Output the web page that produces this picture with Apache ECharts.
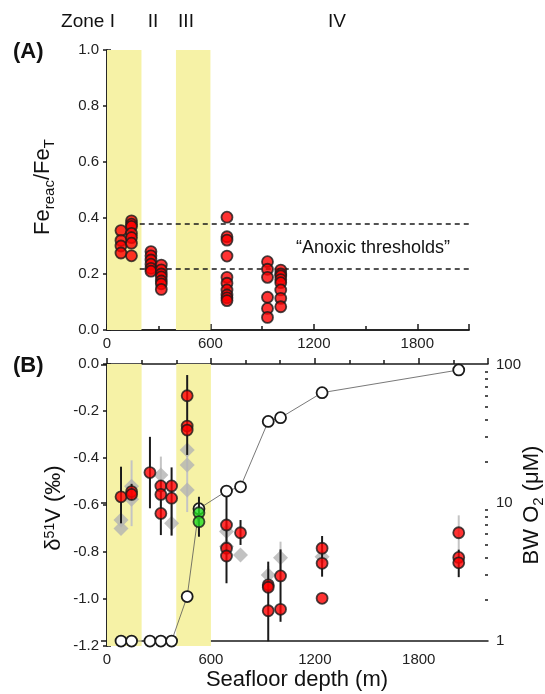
<!DOCTYPE html>
<html><head><meta charset="utf-8">
<script src="https://cdn.jsdelivr.net/npm/echarts@6/dist/echarts.min.js"></script>
<style>html,body{margin:0;padding:0;background:#fff}#c{width:545px;height:694px}</style>
</head><body><div id="c"></div>
<script>
// ---------- Panel A data ----------
const feSites = [81, 142, 255, 315, 696, 931, 1008];
const feValues = [
  [0.355, 0.32, 0.30, 0.275],
  [0.39, 0.378, 0.37, 0.345, 0.33, 0.31, 0.265],
  [0.28, 0.265, 0.25, 0.235, 0.22, 0.21],
  [0.232, 0.215, 0.2, 0.19, 0.175, 0.165, 0.145],
  [0.403, 0.333, 0.321, 0.264, 0.188, 0.167, 0.143, 0.125, 0.115, 0.105],
  [0.244, 0.217, 0.188, 0.117, 0.077, 0.045],
  [0.214, 0.2, 0.193, 0.18, 0.169, 0.143, 0.113, 0.083]
];
const anoxicThresholds = [0.38, 0.22];
const thresholdStart = 190;
const zoneBands = [[0, 200], [400, 600]];
const zoneLabels = ['Zone I', 'II', 'III', 'IV'];

// ---------- Panel B data ----------
const vSites = [81, 142, 248, 311, 373, 463, 690, 771, 931, 1002, 1242, 2031];
const vValues = [
  [-0.565], [-0.543, -0.555], [-0.462], [-0.519, -0.555, -0.636], [-0.519, -0.571],
  [-0.135, -0.264, -0.281], [-0.685, -0.784, -0.817], [-0.718], [-0.94, -0.95, -1.05],
  [-0.902, -1.044], [-0.784, -0.848, -0.997], [-0.718, -0.823, -0.846]
];
const vErrLow  = [-0.678, -0.58, -0.614, -0.728, -0.73, -0.387, -0.933, -0.77, -1.18, -1.097, -0.905, -0.907];
const vErrHigh = [-0.437, -0.51, -0.31, -0.494, -0.44, -0.047, -0.565, -0.664, -0.841, -0.789, -0.732, -0.79];

const greenSites = [531];
const greenValues = [[-0.633, -0.671]];
const greenErrLow = [-0.735];
const greenErrHigh = [-0.565];

const greySites = [81, 142, 311, 373, 463, 690, 771, 931, 1002, 1242];
const greyValues = [
  [-0.664, -0.70], [-0.52, -0.575], [-0.472], [-0.678], [-0.366, -0.43, -0.536],
  [-0.713, -0.777], [-0.813], [-0.898], [-0.824], [-0.82]
];
const greyBarSites = [142, 311, 373, 463, 690, 931, 1002, 2031];
const greyErrLow  = [-0.69, -0.621, -0.73, -0.63, -0.75, -0.93, -0.877, -0.805];
const greyErrHigh = [-0.41, -0.394, -0.60, -0.38, -0.68, -0.86, -0.756, -0.644];

const o2Depth  = [81, 142, 248, 311, 373, 463, 531, 690, 771, 931, 1002, 1242, 2031];
const o2Values = [1, 1, 1, 1, 1, 2.1, 9.1, 12.2, 13.1, 39, 41.5, 63, 92];
const o2MajorTicks = [1, 10, 100];
const o2MinorTicks = [2, 3, 4, 5, 6, 7, 8, 9, 20, 30, 40, 50, 60, 70, 80, 90];

// ---------- helpers ----------
const FONT = '"Liberation Sans", Arial, sans-serif';
const INK = '#1a1a1a';
const BAND = '#f6f2a6';
const lbl = {fontFamily: FONT, fontSize: 15, color: '#222'};
const lineSt = {color: INK, width: 1.5};

function pairs(sites, values) {
  const out = [];
  sites.forEach((s, i) => values[i].forEach(v => out.push([s, v])));
  return out;
}
function errBars(sites, lo, hi, color, xi, yi, z) {
  return {
    type: 'custom', xAxisIndex: xi, yAxisIndex: yi, z: z, silent: true,
    data: sites.map((s, i) => [s, lo[i], hi[i]]),
    encode: {x: 0, y: [1, 2]},
    renderItem: (params, api) => {
      const a = api.coord([api.value(0), api.value(1)]);
      const b = api.coord([api.value(0), api.value(2)]);
      return {type: 'line', shape: {x1: a[0], y1: a[1], x2: b[0], y2: b[1]},
              style: {stroke: color, lineWidth: 2}};
    }
  };
}
function bandSeries(xi, yi) {
  return {
    type: 'scatter', xAxisIndex: xi, yAxisIndex: yi, data: [], z: 0, silent: true,
    markArea: {silent: true, itemStyle: {color: BAND},
      data: zoneBands.map(b => [{xAxis: b[0]}, {xAxis: b[1]}])}
  };
}
function xAxes(grid, max, minorInt) {
  return [
    {type: 'value', gridIndex: grid, min: 0, max: max, interval: 600, position: 'bottom',
     axisLine: {show: true, lineStyle: lineSt},
     axisTick: {show: true, inside: true, length: 6, lineStyle: lineSt},
     axisLabel: Object.assign({margin: 6, formatter: v => (v % 600 === 0 ? String(v) : '')}, lbl),
     splitLine: {show: false}},
    {type: 'value', gridIndex: grid, min: 0, max: max, interval: minorInt, position: 'bottom',
     axisLine: {show: false}, axisTick: {show: true, inside: true, length: 4, lineStyle: lineSt},
     axisLabel: {show: false}, splitLine: {show: false}},
    {type: 'value', gridIndex: grid, min: 0, max: max, position: 'top',
     axisLine: {show: true, lineStyle: lineSt}, axisTick: {show: false},
     axisLabel: {show: false}, splitLine: {show: false}}
  ];
}
function yAxesLeft(grid, min, max) {
  return [
    {type: 'value', gridIndex: grid, min: min, max: max, interval: 0.2, position: 'left',
     axisLine: {show: true, lineStyle: lineSt},
     axisTick: {show: true, inside: false, length: 4, lineStyle: lineSt},
     axisLabel: Object.assign({margin: 8, formatter: v => v.toFixed(1)}, lbl),
     splitLine: {show: false}},
    {type: 'value', gridIndex: grid, min: min, max: max, interval: 0.1, position: 'left',
     axisLine: {show: false}, axisTick: {show: true, inside: true, length: 4, lineStyle: lineSt},
     axisLabel: {show: false}, splitLine: {show: false}}
  ];
}

const xs = xAxes(0, 2100, 300).concat(xAxes(1, 2200, 200));
const ys = yAxesLeft(0, 0, 1).concat([
  {type: 'value', gridIndex: 0, min: 0, max: 1, position: 'right',
   axisLine: {show: true, lineStyle: lineSt}, axisTick: {show: false},
   axisLabel: {show: false}, splitLine: {show: false}}
]).concat(yAxesLeft(1, -1.2, 0)).concat([
  {type: 'value', gridIndex: 1, min: -0.036, max: 2.007, position: 'right',
   axisLine: {show: true, lineStyle: lineSt},
   axisTick: {show: true, inside: true, length: 6, lineStyle: lineSt,
              customValues: o2MajorTicks.map(Math.log10)},
   axisLabel: Object.assign({margin: 8, customValues: o2MajorTicks.map(Math.log10),
              formatter: v => String(Math.round(Math.pow(10, v)))}, lbl),
   splitLine: {show: false}},
  {type: 'value', gridIndex: 1, min: -0.036, max: 2.007, position: 'right',
   axisLine: {show: false},
   axisTick: {show: true, inside: true, length: 3, lineStyle: lineSt,
              customValues: o2MinorTicks.map(Math.log10)},
   axisLabel: {show: false}, splitLine: {show: false}}
]);
// yAxis indices: 0,1 top-left; 2 top-right; 3,4 bottom-left; 5 O2 major; 6 O2 minor

const redPoint = {color: '#ff0000', borderColor: INK, borderWidth: 1.8};
const richMain = {fontFamily: FONT, fontSize: 22, lineHeight: 30, verticalAlign: 'top', fill: '#111'};
const richSub = {fontFamily: FONT, fontSize: 15, lineHeight: 30, verticalAlign: 'top', padding: [10, 0, 0, 0], fill: '#111'};
const richSup = {fontFamily: FONT, fontSize: 14, lineHeight: 30, verticalAlign: 'top', fill: '#111'};

const option = {
  animation: false,
  backgroundColor: '#fff',
  grid: [
    {left: 107, top: 50, width: 362, height: 280},
    {left: 107, top: 364, width: 381, height: 282}
  ],
  xAxis: xs,
  yAxis: ys,
  series: [
    bandSeries(0, 0),
    {type: 'scatter', xAxisIndex: 0, yAxisIndex: 0, data: [], z: 1, silent: true,
     markLine: {silent: true, symbol: ['none', 'none'], label: {show: false},
       lineStyle: {color: INK, width: 1.5, type: [5, 4]},
       data: anoxicThresholds.map(t => [{coord: [thresholdStart, t]}, {coord: [2100, t]}])}},
    {type: 'scatter', xAxisIndex: 0, yAxisIndex: 0, z: 5, symbolSize: 11,
     itemStyle: redPoint, data: pairs(feSites, feValues)},

    bandSeries(3, 3),
    errBars(greyBarSites, greyErrLow, greyErrHigh, '#c4c4c4', 3, 3, 2),
    {type: 'scatter', xAxisIndex: 3, yAxisIndex: 3, z: 2, symbol: 'diamond', symbolSize: 15,
     itemStyle: {color: '#b3b3b3'}, data: pairs(greySites, greyValues)},
    {type: 'line', xAxisIndex: 3, yAxisIndex: 5, z: 3, clip: false,
     symbol: 'circle', symbolSize: 11, showAllSymbol: true,
     lineStyle: {color: '#555', width: 0.8},
     itemStyle: {color: '#fff', borderColor: INK, borderWidth: 1.8},
     data: o2Depth.map((d, i) => [d, Math.log10(o2Values[i])])},
    errBars(vSites, vErrLow, vErrHigh, INK, 3, 3, 4),
    errBars(greenSites, greenErrLow, greenErrHigh, INK, 3, 3, 4),
    {type: 'scatter', xAxisIndex: 3, yAxisIndex: 3, z: 5, symbolSize: 11,
     itemStyle: redPoint, data: pairs(vSites, vValues)},
    {type: 'scatter', xAxisIndex: 3, yAxisIndex: 3, z: 5, symbolSize: 11,
     itemStyle: {color: '#22dd22', borderColor: INK, borderWidth: 1.8},
     data: pairs(greenSites, greenValues)}
  ],
  graphic: [
    {type: 'text', x: 88, y: 22, style: {text: zoneLabels[0], fontFamily: FONT, fontSize: 19, fill: '#111', align: 'center', verticalAlign: 'middle'}},
    {type: 'text', x: 153, y: 22, style: {text: zoneLabels[1], fontFamily: FONT, fontSize: 19, fill: '#111', align: 'center', verticalAlign: 'middle'}},
    {type: 'text', x: 186, y: 22, style: {text: zoneLabels[2], fontFamily: FONT, fontSize: 19, fill: '#111', align: 'center', verticalAlign: 'middle'}},
    {type: 'text', x: 337, y: 22, style: {text: zoneLabels[3], fontFamily: FONT, fontSize: 19, fill: '#111', align: 'center', verticalAlign: 'middle'}},
    {type: 'text', x: 13, y: 52, style: {text: '(A)', fontFamily: FONT, fontSize: 22, fontWeight: 'bold', fill: '#111', verticalAlign: 'middle'}},
    {type: 'text', x: 13, y: 366, style: {text: '(B)', fontFamily: FONT, fontSize: 22, fontWeight: 'bold', fill: '#111', verticalAlign: 'middle'}},
    {type: 'text', x: 373, y: 248, style: {text: '\u201CAnoxic thresholds\u201D', fontFamily: FONT, fontSize: 18, fill: '#111', align: 'center', verticalAlign: 'middle'}},
    {type: 'text', x: 297, y: 680, style: {text: 'Seafloor depth (m)', fontFamily: FONT, fontSize: 22, fill: '#111', align: 'center', verticalAlign: 'middle'}},
    {type: 'text', x: 47, y: 187, rotation: Math.PI / 2,
     style: {text: '{a|Fe}{s|reac}{a|/Fe}{s|T}', align: 'center', verticalAlign: 'middle',
       rich: {a: richMain, s: richSub}}},
    {type: 'text', x: 58, y: 508, rotation: Math.PI / 2,
     style: {text: '{a|δ}{p|51}{a|V (‰)}', align: 'center', verticalAlign: 'middle',
       rich: {a: richMain, p: richSup}}},
    {type: 'text', x: 536, y: 505, rotation: Math.PI / 2,
     style: {text: '{a|BW O}{s|2}{a| (μM)}', align: 'center', verticalAlign: 'middle',
       rich: {a: richMain, s: richSub}}}
  ]
};
const chart = echarts.init(document.getElementById('c'));
chart.setOption(option);
</script>
</body></html>
